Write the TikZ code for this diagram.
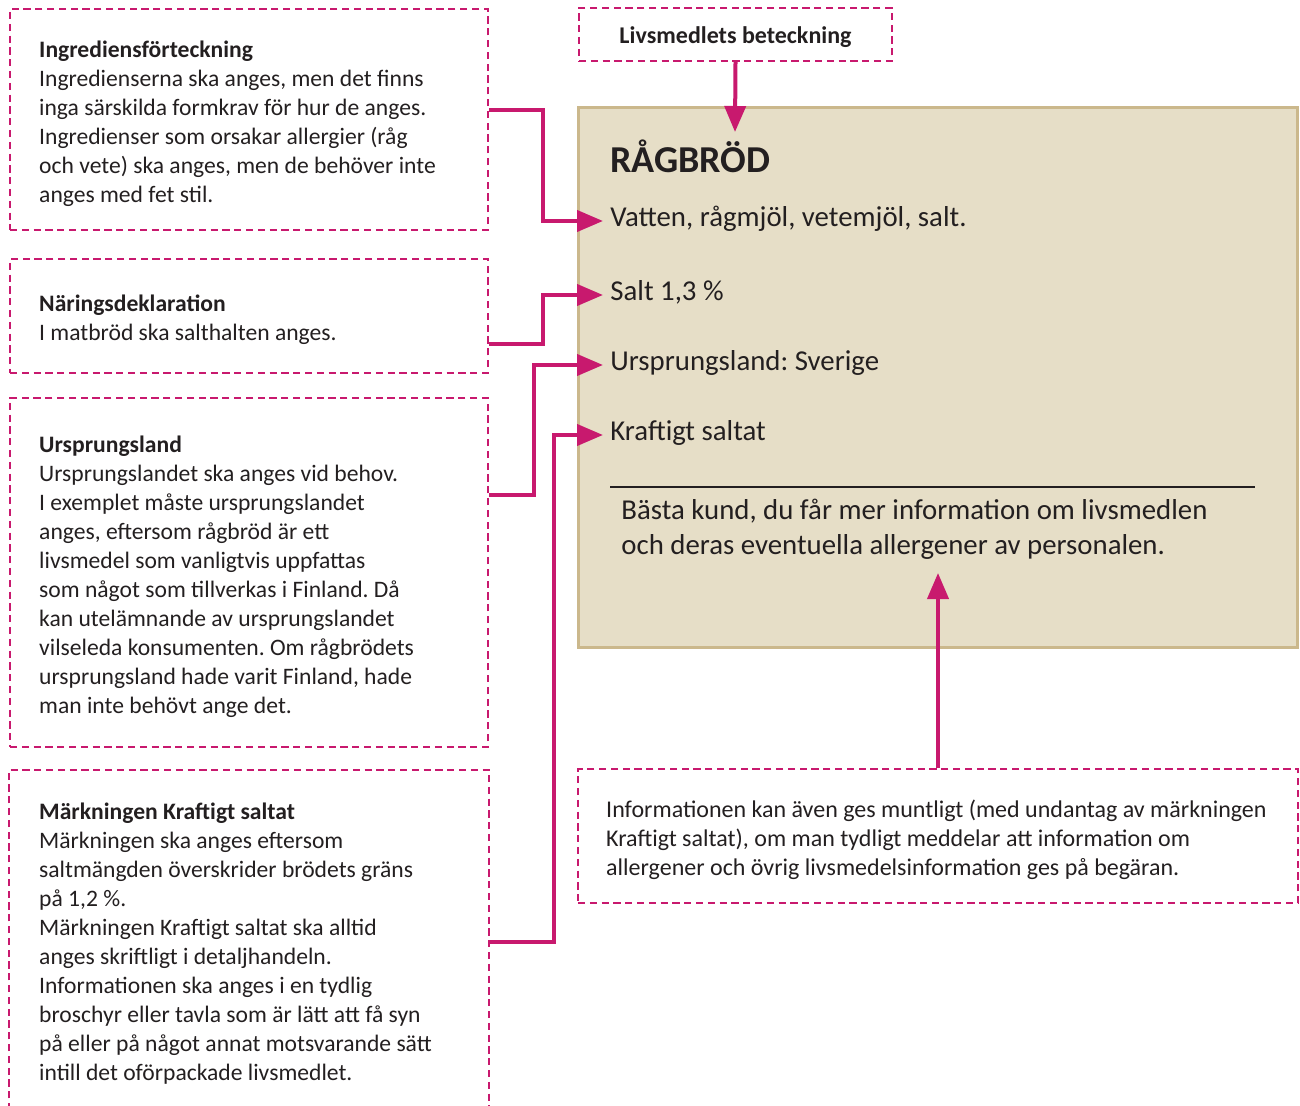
\documentclass[tikz,border=0pt]{standalone}
\usepackage{fontspec}
\setmainfont{Carlito}
\usepackage{tikz}
\usepackage{xcolor}
\usetikzlibrary{arrows.meta,positioning}
\definecolor{FoodPink}{HTML}{C8196E}
\definecolor{LabelBeige}{HTML}{E6DEC7}
\definecolor{LabelEdge}{HTML}{CBB88C}
\definecolor{InkBlack}{HTML}{231F20}
\frenchspacing
\tikzset{
    % Base dashed box
    dashbox/.style={
        draw=FoodPink,
        line width=1.2pt,
        dash pattern=on 3.6pt off 2.3pt,
        text=InkBlack,
        inner sep=0pt
    },
    % Explanation box on the left
    sidebox/.style={
        dashbox,
        minimum width=239pt
    },
    % Text inside a dashed box
    boxtext/.style={
        text=InkBlack,
        align=left,
        inner sep=0pt,
        yshift=-2pt,
        font=\fontsize{11.8pt}{14.5pt}\selectfont
    },
    % Heading box above the label
    namebox/.style={
        dashbox,
        align=center,
        minimum width=156.5pt,
        minimum height=26.5pt,
        text height=1.08em,
        text depth=0.2em,
        font=\fontsize{12pt}{14.5pt}\selectfont\bfseries
    },
    % Note box under the label
    infobox/.style={
        dashbox,
        minimum width=360pt,
        minimum height=67pt
    },
    % The product label
    labelbox/.style={
        draw=LabelEdge,
        fill=LabelBeige,
        line width=1.5pt,
        minimum width=359.5pt,
        minimum height=269.5pt
    },
    % Text line on the label
    labelitem/.style={
        text=InkBlack,
        inner sep=0pt,
        anchor=west,
        text height=0.8em,
        text depth=0.2em,
        font=\fontsize{14.4pt}{17.5pt}\selectfont
    },
    % Arrow styles (straight lines only)
    pinkarrow/.style={
        -{Triangle[length=13pt,width=10.5pt]},
        line width=2pt,
        draw=FoodPink
    }
}

\begin{document}
\begin{tikzpicture}[x=0.5pt, y=-0.5pt]
        \useasboundingbox (0,0) rectangle (1300,1106);

        % Label
        \node[labelbox] (label) at (937.5,377.5) {};
        \node[text=InkBlack, inner sep=0pt, anchor=base west, font=\fontsize{19pt}{22pt}\selectfont\bfseries] (title) at (610,173) {RÅGBRÖD};
        \node[labelitem] (ingredients) at (610,221) {Vatten, rågmjöl, vetemjöl, salt.};
        \node[labelitem] (salt) at (610,295) {Salt 1,3 \%};
        \node[labelitem] (origin) at (610,365) {Ursprungsland: Sverige};
        \node[labelitem] (strongsalt) at (610,435) {Kraftigt saltat};
        \draw[InkBlack, line width=0.6pt] (610,487) -- (1255,487);
        \node[labelitem, text height=, text depth=, align=left] (notice) at (621,529) {Bästa kund, du får mer information om livsmedlen\\och deras eventuella allergener av personalen.};

        % Heading box
        \node[namebox] (namebox) at (735.5,34.5) {Livsmedlets beteckning};

        % Explanation boxes
        \node[sidebox, minimum height=110.5pt] (ingrbox) at (249,119.5) {};
        \node[boxtext, right=15pt of ingrbox.west] (ingrtext) {\textbf{Ingrediensförteckning}\\
            Ingredienserna ska anges, men det finns\\
            inga särskilda formkrav för hur de anges.\\
            Ingredienser som orsakar allergier (råg\\
            och vete) ska anges, men de behöver inte\\
            anges med fet stil.};

        \node[sidebox, minimum height=57pt] (nutrbox) at (249,316) {};
        \node[boxtext, right=15pt of nutrbox.west] (nutrtext) {\textbf{Näringsdeklaration}\\
            I matbröd ska salthalten anges.};

        \node[sidebox, minimum height=174.5pt] (originbox) at (249,572.5) {};
        \node[boxtext, right=15pt of originbox.west] (origintext) {\textbf{Ursprungsland}\\
            Ursprungslandet ska anges vid behov.\\
            I exemplet måste ursprungslandet\\
            anges, eftersom rågbröd är ett\\
            livsmedel som vanligtvis uppfattas\\
            som något som tillverkas i Finland. Då\\
            kan utelämnande av ursprungslandet\\
            vilseleda konsumenten. Om rågbrödets\\
            ursprungsland hade varit Finland, hade\\
            man inte behövt ange det.};

        \node[sidebox, draw=none, minimum height=169pt] (strongbox) at (249,940) {};
        \draw[dashbox] (strongbox.south west) |- (strongbox.north east) -- (strongbox.south east);
        \node[boxtext, right=15pt of strongbox.west] (strongtext) {\textbf{Märkningen Kraftigt saltat}\\
            Märkningen ska anges eftersom\\
            saltmängden överskrider brödets gräns\\
            på 1,2 \%.\\
            Märkningen Kraftigt saltat ska alltid\\
            anges skriftligt i detaljhandeln.\\
            Informationen ska anges i en tydlig\\
            broschyr eller tavla som är lätt att få syn\\
            på eller på något annat motsvarande sätt\\
            intill det oförpackade livsmedlet.};

        % Note box
        \node[infobox] (infobox) at (938,836) {};
        \node[boxtext, font=\fontsize{12pt}{14.5pt}\selectfont, right=14.5pt of infobox.west] (infotext) {Informationen kan även ges muntligt (med undantag av märkningen\\
            Kraftigt saltat), om man tydligt meddelar att information om\\
            allergener och övrig livsmedelsinformation ges på begäran.};

        % Arrow tips inside the label
        \coordinate (nametip) at (735,132);
        \coordinate (infotip) at (938,573);

        % Arrows
        \draw[pinkarrow] (namebox.south) -- (nametip);
        \draw[pinkarrow, shorten >=3.5pt] (ingrbox.east |- 0,110) -- ++(54,0) |- (ingredients.west);
        \draw[pinkarrow, shorten >=3.5pt] (nutrbox.east |- 0,344) -- ++(54,0) |- (salt.west);
        \draw[pinkarrow, shorten >=3.5pt] (originbox.east |- 0,495) -- ++(45,0) |- (origin.west);
        \draw[pinkarrow, shorten >=3.5pt] (strongbox.east |- 0,942) -- ++(65,0) |- (strongsalt.west);
        \draw[pinkarrow] (infobox.north) -- (infotip);
    \end{tikzpicture}
\end{document}
